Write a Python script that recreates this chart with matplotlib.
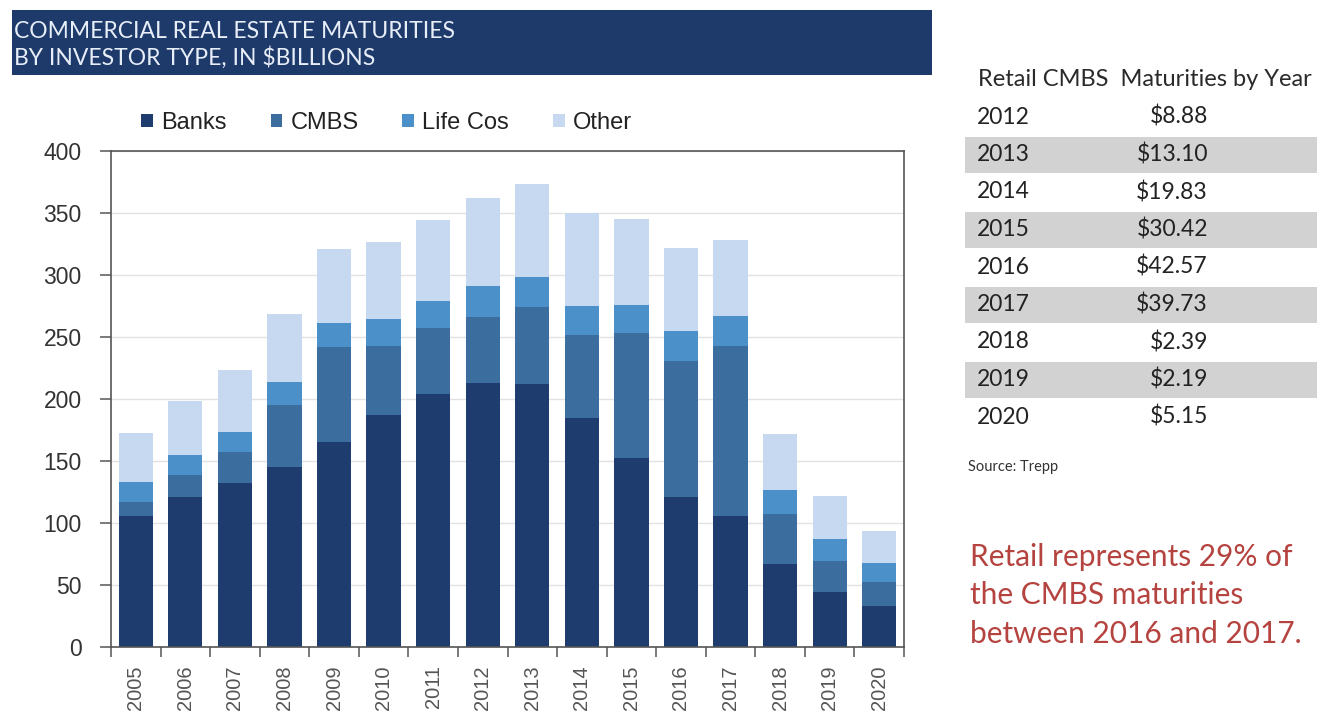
import numpy as np
import matplotlib
matplotlib.use("Agg")
import matplotlib.pyplot as plt
import matplotlib.patches as mpatches
from matplotlib.ticker import MultipleLocator

# chart data (USD billions)
years = ["2005", "2006", "2007", "2008", "2009", "2010", "2011", "2012",
         "2013", "2014", "2015", "2016", "2017", "2018", "2019", "2020"]
banks    = [106, 121, 132, 145, 165, 187.5, 204, 213, 212, 185, 152.5, 121, 106, 67, 44, 33]
cmbs     = [11, 18, 25, 50, 77, 55, 53, 53, 62, 67, 100.5, 109.5, 137, 40, 25.5, 19.5]
life_cos = [16, 16, 16, 19, 19, 22, 22, 25, 24, 23, 23, 24, 24, 20, 18, 15.5]
other    = [39.5, 43.5, 50, 54.5, 60, 62, 65, 71, 75, 75, 69, 67, 61, 45, 34, 25.5]

series_names = ["Banks", "CMBS", "Life Cos", "Other"]
series_data  = [banks, cmbs, life_cos, other]
COLORS = ["#1f3c6e", "#3b6e9f", "#4b90c9", "#c6d9f0"]

# retail CMBS table
table_years  = ["2012", "2013", "2014", "2015", "2016", "2017", "2018", "2019", "2020"]
table_values = ["$8.88", "$13.10", "$19.83", "$30.42", "$42.57", "$39.73", "$2.39", "$2.19", "$5.15"]

W, H = 1342, 723
fig = plt.figure(figsize=(W / 100, H / 100), dpi=100)
fig.patch.set_facecolor("white")


def px_box(x0, y0, x1, y1):
    """pixel box (top-left origin) -> figure fraction rect"""
    return [x0 / W, 1 - y1 / H, (x1 - x0) / W, (y1 - y0) / H]


# ---- title banner ----
fig.patches.append(mpatches.Rectangle((12 / W, 1 - 75 / H), (932 - 12) / W, (75 - 10) / H,
                                      transform=fig.transFigure, facecolor="#1e3a6b",
                                      edgecolor="none", zorder=0))
fig.text(14 / W, 1 - 32 / H, "COMMERCIAL REAL ESTATE MATURITIES", color="#e8eef7",
         fontsize=16.5, family="Lato", va="center", ha="left")
fig.text(14 / W, 1 - 58 / H, "BY INVESTOR TYPE, IN $BILLIONS", color="#e8eef7",
         fontsize=16.5, family="Lato", va="center", ha="left")

# ---- stacked bar chart ----
ax = fig.add_axes(px_box(111, 151, 904, 647))
x = np.arange(len(years))
bottom = np.zeros(len(years))
handles = []
for name, vals, col in zip(series_names, series_data, COLORS):
    b = ax.bar(x, vals, bottom=bottom, width=0.69, color=col, label=name, zorder=2)
    bottom += np.array(vals)
    handles.append(b)

ax.set_xlim(-0.5, len(years) - 0.5)
ax.set_ylim(0, 400)
ax.yaxis.set_major_locator(MultipleLocator(50))
ax.grid(axis="y", color="#e2e2e2", linewidth=1, zorder=0)
ax.set_axisbelow(True)
for s in ax.spines.values():
    s.set_color("#555555")
    s.set_linewidth(1.2)

ax.set_xticks(x)
ax.set_xticklabels(years, rotation=90, fontsize=14.5, color="#555555", family="Liberation Sans")
ax.tick_params(axis="x", which="major", length=0, pad=13)
ax.set_xticks(np.arange(-0.5, len(years)), minor=True)
ax.tick_params(axis="x", which="minor", length=7, width=1.1, color="#555555", direction="out")
ax.tick_params(axis="y", length=8, width=1.1, color="#555555", labelsize=16.5,
               labelcolor="#333333", pad=13)
for lab in ax.get_yticklabels():
    lab.set_family("Liberation Sans")

fig.legend(handles=handles, labels=series_names, loc="center left",
           bbox_to_anchor=(120 / W, 1 - 123 / H), ncol=4, frameon=False,
           prop={"family": "Liberation Sans", "size": 17},
           handlelength=0.5, handleheight=0.5, handletextpad=0.35, columnspacing=1.85,
           labelcolor="#222222")

# ---- retail CMBS table ----
tax = fig.add_axes(px_box(960, 60.75, 1342, 435.75))
tax.set_xlim(0, 1)
tax.set_ylim(len(table_years) - 0.5, -1.5)
tax.axis("off")
rows = np.arange(len(table_years))
shade = rows[1::2]
tax.barh(shade, [0.922] * len(shade), left=0.013, height=0.96, color="#d2d2d2", zorder=0)
tax.text(0.047, -1, "Retail CMBS  Maturities by Year", fontsize=17, family="Lato",
         color="#2a2a2a", va="center", ha="left")
for r, yr, val in zip(rows, table_years, table_values):
    tax.text(0.045, r, yr, fontsize=16.5, family="Lato", color="#222222", va="center", ha="left")
    tax.text(0.649, r, val, fontsize=16.5, family="Lato", color="#222222", va="center", ha="right")

fig.text(968 / W, 1 - 467 / H, "Source: Trepp", fontsize=10.5, family="Lato",
         color="#333333", va="center", ha="left")

fig.text(970 / W, 1 - 543 / H, "Retail represents 29% of\nthe CMBS maturities\nbetween 2016 and 2017.",
         fontsize=21.5, family="Lato", color="#b5433f", va="top", ha="left",
         linespacing=1.45)

fig.savefig("out.png", dpi=100)
